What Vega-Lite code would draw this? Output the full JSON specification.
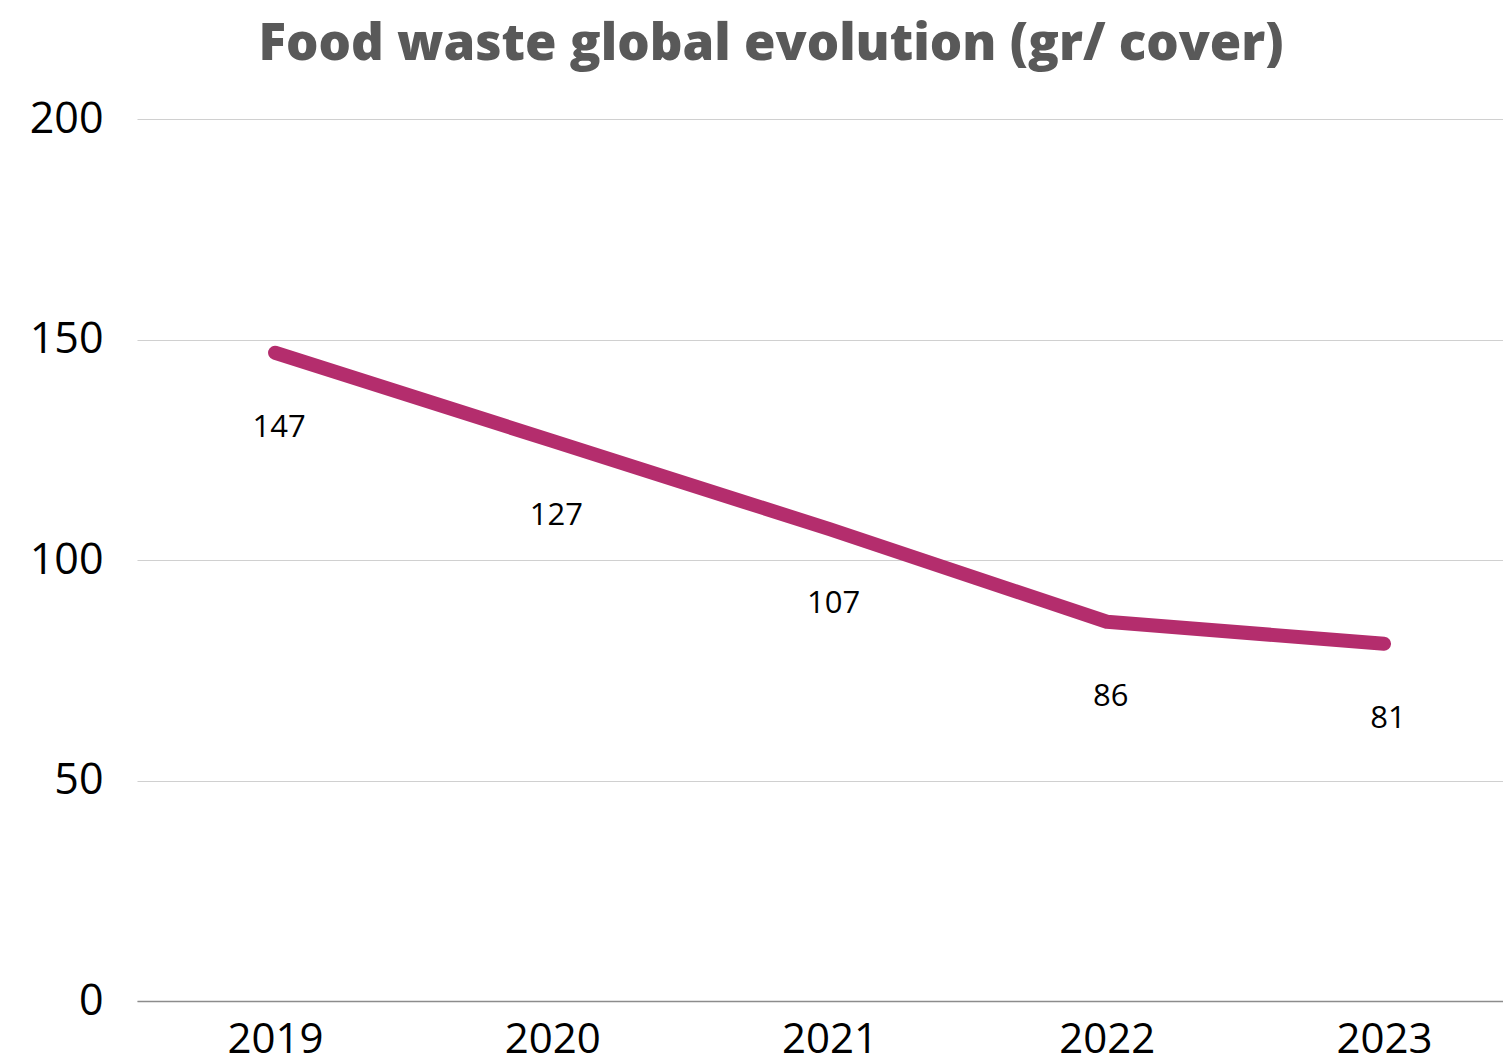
{
  "$schema": "https://vega.github.io/schema/vega-lite/v6.json",
  "autosize": "none",
  "width": 1366,
  "height": 882,
  "padding": {"left": 137, "top": 119, "right": 0, "bottom": 63},
  "background": "white",
  "title": {
    "text": "Food waste global evolution (gr/ cover)",
    "font": "Open Sans",
    "fontSize": 51,
    "fontWeight": 800,
    "color": "#595959",
    "anchor": "middle",
    "dx": -49,
    "offset": 27
  },
  "data": {
    "values": [
      {"year": 2019, "value": 147},
      {"year": 2020, "value": 127},
      {"year": 2021, "value": 107},
      {"year": 2022, "value": 86},
      {"year": 2023, "value": 81}
    ]
  },
  "config": {"view": {"stroke": null}},
  "encoding": {
    "x": {
      "field": "year",
      "type": "quantitative",
      "scale": {"domain": [2018.502, 2023.429], "nice": false, "zero": false},
      "axis": {
        "values": [2019, 2020, 2021, 2022, 2023],
        "format": "d",
        "title": null,
        "grid": false,
        "ticks": false,
        "domainColor": "#8c8c8c",
        "domainWidth": 1.5,
        "labelFont": "Open Sans",
        "labelFontSize": 42,
        "labelColor": "#000000",
        "labelPadding": 18,
        "labelFlush": false
      }
    },
    "y": {
      "field": "value",
      "type": "quantitative",
      "scale": {"domain": [0, 200], "nice": false},
      "axis": {
        "values": [0, 50, 100, 150, 200],
        "title": null,
        "domain": false,
        "ticks": false,
        "gridColor": "#d0d0d0",
        "gridWidth": 1.2,
        "labelFont": "Open Sans",
        "labelFontSize": 43,
        "labelColor": "#000000",
        "labelPadding": 34
      }
    }
  },
  "layer": [
    {
      "mark": {"type": "line", "color": "#B42D6D", "strokeWidth": 14, "strokeCap": "round", "strokeJoin": "round"}
    },
    {
      "mark": {"type": "text", "font": "Open Sans", "fontSize": 31, "color": "#000000", "dy": 75, "dx": 4},
      "encoding": {"text": {"field": "value", "type": "quantitative"}}
    }
  ]
}
